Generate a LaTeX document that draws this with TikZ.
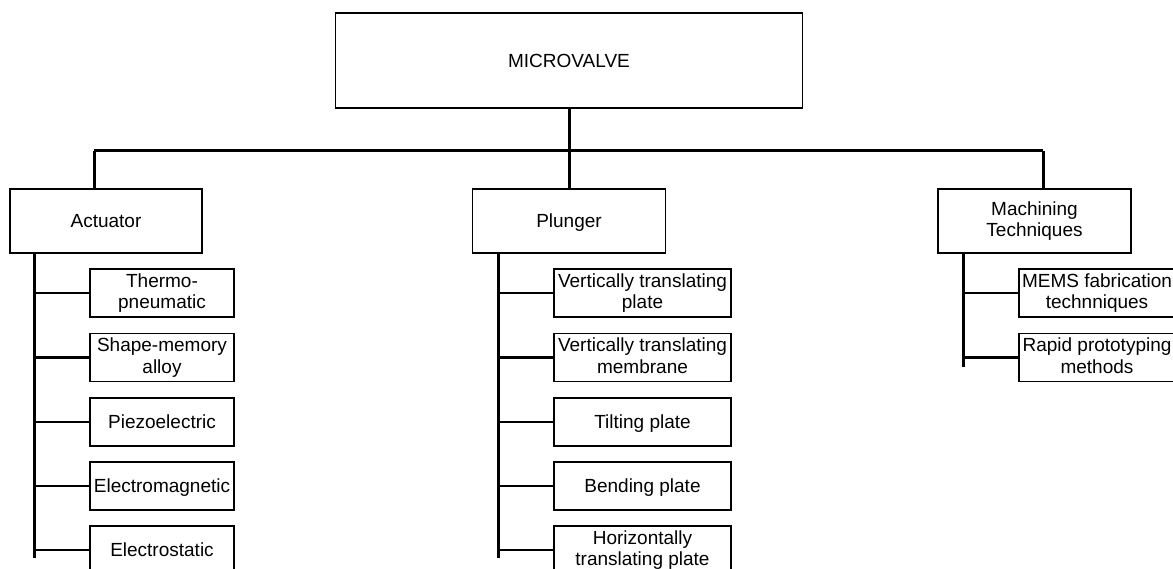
\documentclass[tikz,border=0pt]{standalone}
\usepackage{fontspec}
\setmainfont{Liberation Sans}
\newcommand{\capstrut}{\rule[-4pt]{0pt}{21.6pt}}
\begin{document}
\begin{tikzpicture}[x=1pt,y=-1pt,
  box/.style={draw=black,line width=1.4pt,fill=white,rectangle,inner sep=0pt,align=center,
    font=\fontsize{19}{21.5}\selectfont,
    execute at begin node=\capstrut, execute at end node=\capstrut},
  leaf/.style={box,minimum height=48pt},
  cat/.style={box,minimum height=64pt,minimum width=193pt},
  bus/.style={line width=3pt},
  twig/.style={line width=2.6pt}]
\clip (0,0) rectangle (1173,569);
\fill[white] (0,0) rectangle (1173,569);
% main
\node[box,minimum width=467pt,minimum height=95pt] (main) at (569,60.5) {MICROVALVE};
% categories
\node[cat,minimum width=192pt] (act) at (106,221) {Actuator};
\node[cat] (plu) at (569,221) {Plunger};
\node[cat] (mach) at (1034.5,221) {Machining\\Techniques};
% bus
\coordinate (bL) at (94,151);
\coordinate (bR) at (1043,151);
\draw[bus] (main.south) -- (plu.north);
\draw[bus] (bL) -- (bR);
\draw[bus] (bL) -- (bL |- act.north);
\draw[bus] (bR) -- (bR |- mach.north);
% actuator leaves
\node[leaf,minimum width=144pt] (a1) at (162,293) {Thermo-\\pneumatic};
\node[leaf,minimum width=144pt] (a2) at (162,357.5) {Shape-memory\\alloy};
\node[leaf,minimum width=144pt] (a3) at (162,422) {Piezoelectric};
\node[leaf,minimum width=144pt] (a4) at (162,486) {Electromagnetic};
\node[leaf,minimum width=144pt] (a5) at (162,550) {Electrostatic};
\coordinate (aEnd) at (34,558);
\draw[bus] (act.south -| aEnd) -- (aEnd);
\foreach \n in {a1,a2,a3,a4,a5} \draw[twig] (\n.west -| aEnd) -- (\n.west);
% plunger leaves
\node[leaf,minimum width=177pt] (p1) at (642.5,293) {Vertically translating\\plate};
\node[leaf,minimum width=177pt] (p2) at (642.5,357.5) {Vertically translating\\membrane};
\node[leaf,minimum width=177pt] (p3) at (642.5,422) {Tilting plate};
\node[leaf,minimum width=177pt] (p4) at (642.5,486) {Bending plate};
\node[leaf,minimum width=177pt] (p5) at (642.5,550) {Horizontally\\translating plate};
\coordinate (pEnd) at (498,558);
\draw[bus] (plu.south -| pEnd) -- (pEnd);
\foreach \n in {p1,p2,p3,p4,p5} \draw[twig] (\n.west -| pEnd) -- (\n.west);
% machining leaves
\node[leaf,minimum width=156pt] (m1) at (1097,293) {MEMS fabrication\\technniques};
\node[leaf,minimum width=156pt] (m2) at (1097,357.5) {Rapid prototyping\\methods};
\coordinate (mEnd) at (963,367);
\draw[bus] (mach.south -| mEnd) -- (mEnd);
\foreach \n in {m1,m2} \draw[twig] (\n.west -| mEnd) -- (\n.west);
\end{tikzpicture}
\end{document}
